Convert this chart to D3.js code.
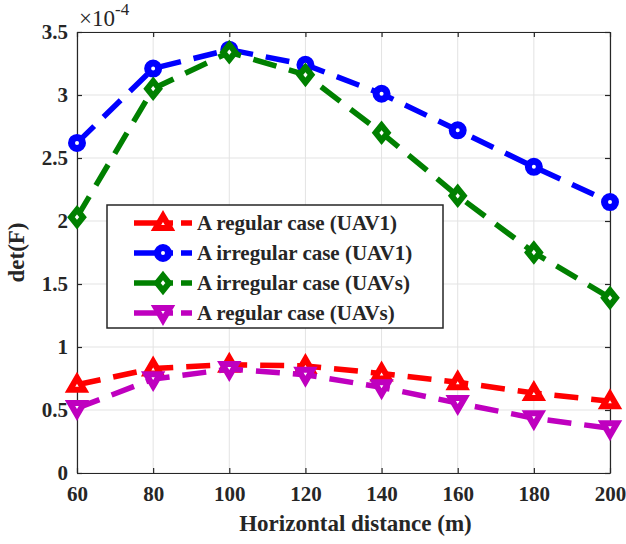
<!DOCTYPE html>
<html>
<head>
<meta charset="utf-8">
<script src="https://cdn.jsdelivr.net/npm/d3@7"></script>
<style>
  body { margin: 0; background: #fff; }
  text { font-family: "Liberation Serif", "Times New Roman", serif; fill: #262626; }
</style>
</head>
<body>
<svg width="626" height="544"></svg>
<script>
const distances = [60, 80, 100, 120, 140, 160, 180, 200];
const xTicks = [60, 80, 100, 120, 140, 160, 180, 200];
const yTicks = [0, 0.5, 1, 1.5, 2, 2.5, 3, 3.5];

// det(F) values, in units of 1e-4
const regularUav1 = [0.70, 0.83, 0.86, 0.85, 0.79, 0.72, 0.635, 0.57];
const irregularUav1 = [2.62, 3.21, 3.36, 3.24, 3.01, 2.72, 2.43, 2.15];
const irregularUavs = [2.03, 3.05, 3.34, 3.16, 2.70, 2.20, 1.75, 1.39];
const regularUavs = [0.515, 0.745, 0.825, 0.78, 0.68, 0.555, 0.435, 0.355];

const seriesNames = [
  'A regular case (UAV1)',
  'A irregular case (UAV1)',
  'A irregular case (UAVs)',
  'A regular case (UAVs)'
];

const series = [
  { name: seriesNames[0], values: regularUav1, color: '#ff0000', marker: 'up' },
  { name: seriesNames[1], values: irregularUav1, color: '#0000ff', marker: 'circle' },
  { name: seriesNames[2], values: irregularUavs, color: '#008000', marker: 'diamond' },
  { name: seriesNames[3], values: regularUavs, color: '#bf00bf', marker: 'down' }
];

const svg = d3.select('svg');
const plotLeft = 77, plotRight = 610, plotTop = 32, plotBottom = 473;

const x = d3.scaleLinear().domain([60, 200]).range([plotLeft, plotRight]);
const y = d3.scaleLinear().domain([0, 3.5]).range([plotBottom, plotTop]);

// grid
svg.append('g')
  .selectAll('line')
  .data(xTicks)
  .enter().append('line')
    .attr('x1', d => x(d)).attr('x2', d => x(d))
    .attr('y1', plotTop).attr('y2', plotBottom)
    .attr('stroke', '#e3e3e3').attr('stroke-width', 1);

svg.append('g')
  .selectAll('line')
  .data(yTicks)
  .enter().append('line')
    .attr('x1', plotLeft).attr('x2', plotRight)
    .attr('y1', d => y(d)).attr('y2', d => y(d))
    .attr('stroke', '#e3e3e3').attr('stroke-width', 1);

// axes (ticks inside, box on)
const tickFmt = d3.format('~g');
const bottomAxis = d3.axisBottom(x).tickValues(xTicks).tickSizeInner(-5).tickSizeOuter(0).tickPadding(13).tickFormat(tickFmt);
const topAxis = d3.axisTop(x).tickValues(xTicks).tickSizeInner(-5).tickSizeOuter(0).tickFormat('');
const leftAxis = d3.axisLeft(y).tickValues(yTicks).tickSizeInner(-5).tickSizeOuter(0).tickPadding(9).tickFormat(tickFmt);
const rightAxis = d3.axisRight(y).tickValues(yTicks).tickSizeInner(-5).tickSizeOuter(0).tickFormat('');

function styleAxis(g) {
  g.select('.domain').attr('stroke', '#262626').attr('stroke-width', 1.2);
  g.selectAll('.tick line').attr('stroke', '#262626').attr('stroke-width', 1.2);
  g.selectAll('.tick text')
    .attr('fill', '#262626')
    .style('font-family', '"Liberation Serif", serif')
    .style('font-size', '21px')
    .style('font-weight', 'bold');
}

svg.append('g').attr('transform', `translate(0,${plotBottom})`).call(bottomAxis).call(styleAxis);
svg.append('g').attr('transform', `translate(0,${plotTop})`).call(topAxis).call(styleAxis);
svg.append('g').attr('transform', `translate(${plotLeft},0)`).call(leftAxis).call(styleAxis);
svg.append('g').attr('transform', `translate(${plotRight},0)`).call(rightAxis).call(styleAxis);

// labels
svg.append('text')
  .attr('x', (plotLeft + plotRight) / 2 + 12).attr('y', 531)
  .attr('text-anchor', 'middle')
  .style('font-size', '23px').style('font-weight', 'bold')
  .text('Horizontal distance (m)');

svg.append('text')
  .attr('transform', `translate(24,${(plotTop + plotBottom) / 2}) rotate(-90)`)
  .attr('text-anchor', 'middle')
  .style('font-size', '23px').style('font-weight', 'bold')
  .text('det(F)');

const expo = svg.append('text').attr('x', 79).attr('y', 26).style('font-size', '23px');
expo.append('tspan').text('×10');
expo.append('tspan').attr('dy', -11).style('font-size', '17px').text('-4');

// markers
function markerPath(type) {
  if (type === 'up') return 'M0,-7L7,5L-7,5Z';
  if (type === 'down') return 'M0,7L7,-5L-7,-5Z';
  if (type === 'diamond') return 'M0,-7.5L6,0L0,7.5L-6,0Z';
  return d3.arc()({ innerRadius: 0, outerRadius: 5.5, startAngle: 0, endAngle: 2 * Math.PI });
}

function drawMarker(g, type, color) {
  g.append('path')
    .attr('d', markerPath(type))
    .attr('fill', '#fff')
    .attr('stroke', color)
    .attr('stroke-width', type === 'circle' ? 7 : 6)
    .attr('stroke-linejoin', 'miter');
}

const line = d3.line()
  .x((d, i) => x(distances[i]))
  .y(d => y(d));

series.forEach(s => {
  const g = svg.append('g');
  g.append('path')
    .attr('d', line(s.values))
    .attr('fill', 'none')
    .attr('stroke', s.color)
    .attr('stroke-width', 5.5)
    .attr('stroke-dasharray', '24,13');

  s.values.forEach((v, i) => {
    const m = g.append('g').attr('transform', `translate(${x(distances[i])},${y(v)})`);
    drawMarker(m, s.marker, s.color);
  });
});

// legend
const legend = svg.append('g').attr('transform', 'translate(107,205)');
legend.append('rect')
  .attr('width', 336).attr('height', 123)
  .attr('fill', '#fff')
  .attr('stroke', '#262626').attr('stroke-width', 1.5);

series.forEach((s, i) => {
  const row = legend.append('g').attr('transform', `translate(0,${18 + i * 30})`);
  row.append('line')
    .attr('x1', 27).attr('x2', 85)
    .attr('stroke', s.color).attr('stroke-width', 5.5)
    .attr('stroke-dasharray', '39,8,11');
  const m = row.append('g').attr('transform', 'translate(56,0)');
  drawMarker(m, s.marker, s.color);
  row.append('text')
    .attr('x', 90).attr('y', 7)
    .style('font-size', '21px').style('font-weight', 'bold')
    .text(s.name);
});
</script>
</body>
</html>
